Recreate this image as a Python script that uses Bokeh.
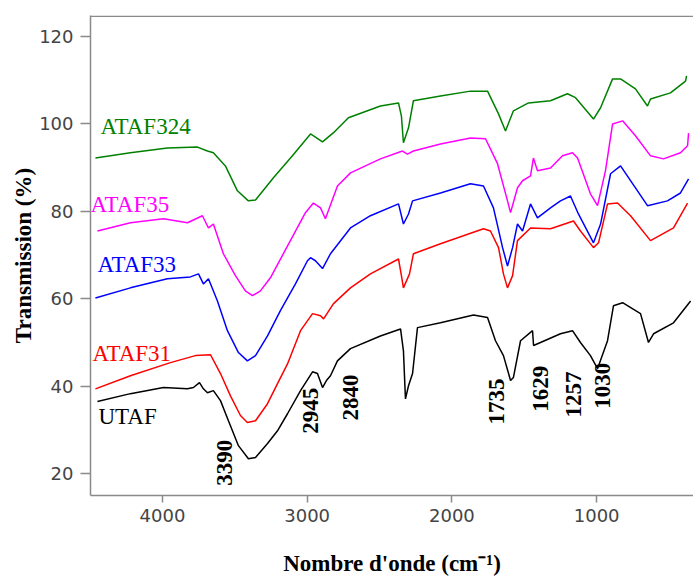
import math
from bokeh.plotting import figure
from bokeh.models import Range1d, FixedTicker, Span
from bokeh.core.properties import value
from bokeh.embed import file_html
from bokeh.resources import INLINE

# ---------------- data ----------------
utaf_x = [4449, 4221, 3993, 3827, 3786, 3744, 3717, 3689, 3648, 3599, 3544, 3475, 3406, 3357,
          3274, 3205, 3136, 3046, 2963, 2929, 2894, 2867, 2839, 2791, 2701, 2494, 2355, 2335,
          2321, 2300, 2272, 2238, 2079, 1851, 1754, 1699, 1644, 1595, 1575, 1526, 1443, 1436,
          1388, 1250, 1167, 1112, 1043, 994, 925, 884, 821, 697, 642, 607, 469, 351]
utaf_y = [36.5, 38.3, 39.7, 39.4, 39.7, 40.8, 39.4, 38.5, 39.0, 36.7, 32.1, 26.4, 23.4, 23.7,
          26.9, 29.8, 33.7, 39.0, 43.3, 42.9, 39.7, 41.3, 42.4, 45.8, 48.6, 51.5, 53.1, 48.1,
          37.1, 40.1, 42.9, 53.4, 54.5, 56.3, 55.7, 50.4, 47.0, 41.3, 42.0, 50.4, 52.7, 49.3,
          50.0, 52.0, 52.7, 50.0, 47.0, 44.0, 50.4, 58.4, 59.1, 56.6, 50.0, 52.0, 54.5, 59.5]

ataf31_x = [4463, 4221, 3945, 3772, 3668, 3599, 3530, 3461, 3413, 3357, 3274, 3205, 3136, 3046,
            2963, 2908, 2887, 2818, 2701, 2563, 2369, 2349, 2335, 2293, 2266, 2079, 1782, 1734,
            1678, 1644, 1616, 1581, 1547, 1457, 1319, 1160, 1112, 1022, 987, 925, 856, 766,
            628, 469, 372]
ataf31_y = [39.4, 42.4, 45.4, 47.0, 47.2, 42.9, 37.8, 33.3, 31.7, 32.1, 36.0, 40.6, 45.1, 52.7,
            56.6, 56.1, 55.4, 58.9, 62.5, 65.7, 69.1, 65.3, 62.5, 65.7, 70.3, 72.6, 76.0, 75.5,
            71.7, 65.7, 62.5, 65.3, 73.3, 76.2, 76.0, 77.8, 75.5, 71.7, 72.8, 81.7, 81.9, 79.0,
            73.3, 76.2, 81.9]

ataf33_x = [4463, 4221, 3966, 3807, 3751, 3717, 3682, 3620, 3551, 3475, 3413, 3357, 3274, 3185,
            3081, 2998, 2977, 2943, 2894, 2839, 2701, 2563, 2369, 2335, 2300, 2272, 2079, 1872,
            1782, 1713, 1650, 1616, 1581, 1547, 1512, 1457, 1409, 1319, 1250, 1181, 1126, 1022,
            973, 904, 835, 649, 511, 421, 365]
ataf33_y = [60.2, 62.5, 64.6, 65.0, 65.7, 63.4, 64.6, 59.5, 52.7, 47.7, 45.8, 47.0, 51.5, 57.3,
            63.4, 68.7, 69.4, 68.7, 66.9, 70.3, 76.2, 79.0, 81.7, 77.1, 79.4, 82.4, 84.2, 86.3,
            85.8, 80.8, 71.7, 67.5, 71.7, 77.1, 75.5, 81.7, 78.5, 80.8, 82.4, 83.5, 79.4, 72.8,
            77.1, 88.6, 90.4, 81.3, 82.4, 84.2, 87.4]

ataf35_x = [4449, 4221, 3993, 3827, 3724, 3682, 3648, 3579, 3496, 3427, 3378, 3323, 3254, 3116,
            3012, 2957, 2908, 2874, 2791, 2701, 2494, 2342, 2307, 2266, 2079, 1872, 1768, 1685,
            1616, 1595, 1547, 1512, 1457, 1437, 1409, 1319, 1236, 1167, 1132, 1043, 994, 939,
            890, 821, 732, 628, 538, 421, 372, 365]
ataf35_y = [75.5, 77.4, 78.3, 77.4, 79.0, 76.2, 77.1, 70.3, 65.3, 61.8, 60.7, 61.8, 64.8, 73.3,
            79.7, 81.9, 80.8, 78.3, 85.8, 88.8, 92.0, 93.8, 93.1, 93.8, 95.4, 96.8, 96.6, 90.9,
            82.4, 79.7, 85.4, 87.0, 88.1, 92.2, 89.3, 89.9, 92.7, 93.4, 92.2, 84.0, 81.3, 89.3,
            100.0, 100.7, 97.3, 92.7, 92.0, 93.4, 95.0, 97.9]

ataf324_x = [4463, 4221, 3966, 3758, 3689, 3648, 3565, 3482, 3406, 3357, 3233, 3102, 2977, 2943,
             2894, 2818, 2715, 2494, 2369, 2349, 2335, 2300, 2266, 2079, 1872, 1754, 1678, 1630,
             1575, 1471, 1319, 1202, 1146, 1022, 973, 890, 835, 732, 649, 628, 490, 386, 379]
ataf324_y = [92.2, 93.4, 94.5, 94.7, 93.8, 93.4, 90.4, 84.7, 82.4, 82.6, 87.7, 92.7, 97.7, 97.0,
             95.9, 98.0, 101.4, 104.1, 104.8, 101.8, 95.7, 99.1, 105.3, 106.4, 107.5, 107.5, 102.3, 98.4,
             103.0, 104.8, 105.3, 106.9, 106.0, 101.1, 103.7, 110.3, 110.3, 108.0, 104.1, 105.7, 107.1, 109.8, 111.0]

series_names = ["UTAF", "ATAF31", "ATAF33", "ATAF35", "ATAF324"]
series_colors = ["#000000", "#FF0000", "#0000FF", "#FF00FF", "#008000"]
series_x = [utaf_x, ataf31_x, ataf33_x, ataf35_x, ataf324_x]
series_y = [utaf_y, ataf31_y, ataf33_y, ataf35_y, ataf324_y]

# series label anchors (left edge, vertical middle)
name_x = [4442, 4484, 4449, 4497, 4428]
name_y = [33.0, 47.4, 67.8, 81.5, 99.3]

# peak annotations
peak_text = ["3390", "2945", "2840", "1735", "1629", "1257", "1030"]
peak_x = [3572, 2977, 2701, 1692, 1388, 1160, 960]
peak_y = [22.5, 34.4, 37.4, 36.5, 39.4, 38.1, 40.1]

x_ticks = [1000, 2000, 3000, 4000]
y_ticks = [20, 40, 60, 80, 100, 120]

x_title = "Nombre d'onde (cm\u207b\u00b9)"
y_title = "Transmission (%)"

# ---------------- figure ----------------
p = figure(width=693, height=581, x_range=Range1d(4497, 331), y_range=Range1d(15, 124.8),
           output_backend="svg", toolbar_location=None,
           min_border_left=90, min_border_top=15, min_border_right=0, min_border_bottom=86)
p.xgrid.visible = False
p.ygrid.visible = False
p.outline_line_color = None
p.background_fill_color = "white"

for ax in (p.xaxis[0], p.yaxis[0]):
    ax.axis_line_color = "#8a8a8a"
    ax.axis_line_width = 1.5
    ax.major_tick_line_color = "#8a8a8a"
    ax.major_tick_line_width = 1.5
    ax.major_tick_in = 0
    ax.minor_tick_line_color = None
    ax.major_label_text_font = "DejaVu Sans"
    ax.major_label_text_font_size = "18px"
    ax.major_label_text_color = "#444444"
    ax.axis_label_text_font = "Liberation Serif"
    ax.axis_label_text_font_style = "bold"
    ax.axis_label_text_font_size = "23px"
    ax.axis_label_text_color = "#000000"

p.xaxis.ticker = FixedTicker(ticks=x_ticks)
p.yaxis.ticker = FixedTicker(ticks=y_ticks)
p.xaxis.major_tick_out = 7
p.yaxis.major_tick_out = 10
p.xaxis.major_label_standoff = 6
p.yaxis.major_label_standoff = 7
p.xaxis.axis_label = x_title
p.yaxis.axis_label = y_title
p.xaxis.axis_label_standoff = 26
p.yaxis.axis_label_standoff = 0

p.add_layout(Span(location=124.6, dimension="width", line_color="#8a8a8a", line_width=1.5))

for xs, ys, c in zip(series_x, series_y, series_colors):
    p.line(xs, ys, line_color=c, line_width=1.5)

for nm, nx, ny, c in zip(series_names, name_x, name_y, series_colors):
    p.text(x=[nx], y=[ny], text=[nm], text_color=c, text_align="left", text_baseline="middle",
           text_font=value("Liberation Serif"), text_font_size="23px")

p.text(x=peak_x, y=peak_y, text=peak_text, angle=math.pi / 2, text_align="center",
       text_baseline="middle", text_font=value("Liberation Serif"), text_font_style="bold",
       text_font_size="23px", text_color="#000000")

open("out.html", "w").write(file_html(p, INLINE))
